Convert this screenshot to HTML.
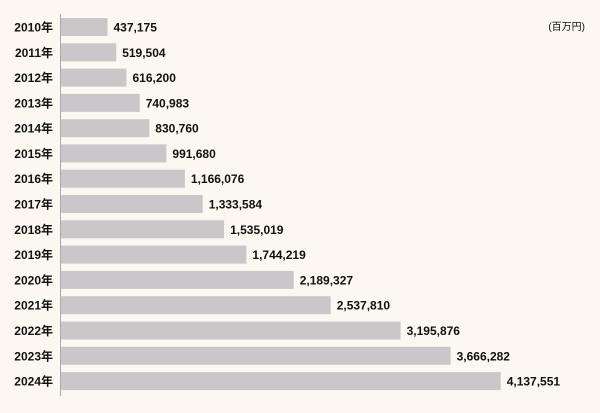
<!DOCTYPE html>
<html><head><meta charset="utf-8"><style>
body{margin:0;width:600px;height:408px;background:#fbf7f1;overflow:hidden;font-family:"Liberation Sans","Noto Sans CJK JP",sans-serif;}
</style></head><body>
<svg width="600" height="408" xmlns="http://www.w3.org/2000/svg" font-family="Liberation Sans, Noto Sans CJK JP, sans-serif" font-weight="bold" font-size="12" fill="#111">
<rect width="600" height="408" fill="#fbf7f1"/>
<text x="585" y="30" font-size="10" font-weight="normal" text-anchor="end">(百万円)</text>
<line x1="60.5" y1="14" x2="60.5" y2="396" stroke="#aaa" stroke-width="1"/>
<g id="bars"></g>
</svg>
<script>
var d=[437175,519504,616200,740983,830760,991680,1166076,1333584,1535019,1744219,2189327,2537810,3195876,3666282,4137551];
var g=document.getElementById('bars'),ns='http://www.w3.org/2000/svg',s='';
for(var i=0;i<d.length;i++){var y=18+i*25.29,w=d[i]*439.7/4137551;
s+='<rect x="61" y="'+y.toFixed(1)+'" width="'+w.toFixed(1)+'" height="18" fill="#c9c7c9"/>';
s+='<text x="53" y="'+(y+13.5).toFixed(1)+'" text-anchor="end">'+(2010+i)+'年</text>';
s+='<text x="'+(61+w+6).toFixed(1)+'" y="'+(y+13.5).toFixed(1)+'">'+d[i].toLocaleString('en-US')+'</text>';}
g.innerHTML=s;
</script>
</body></html>
